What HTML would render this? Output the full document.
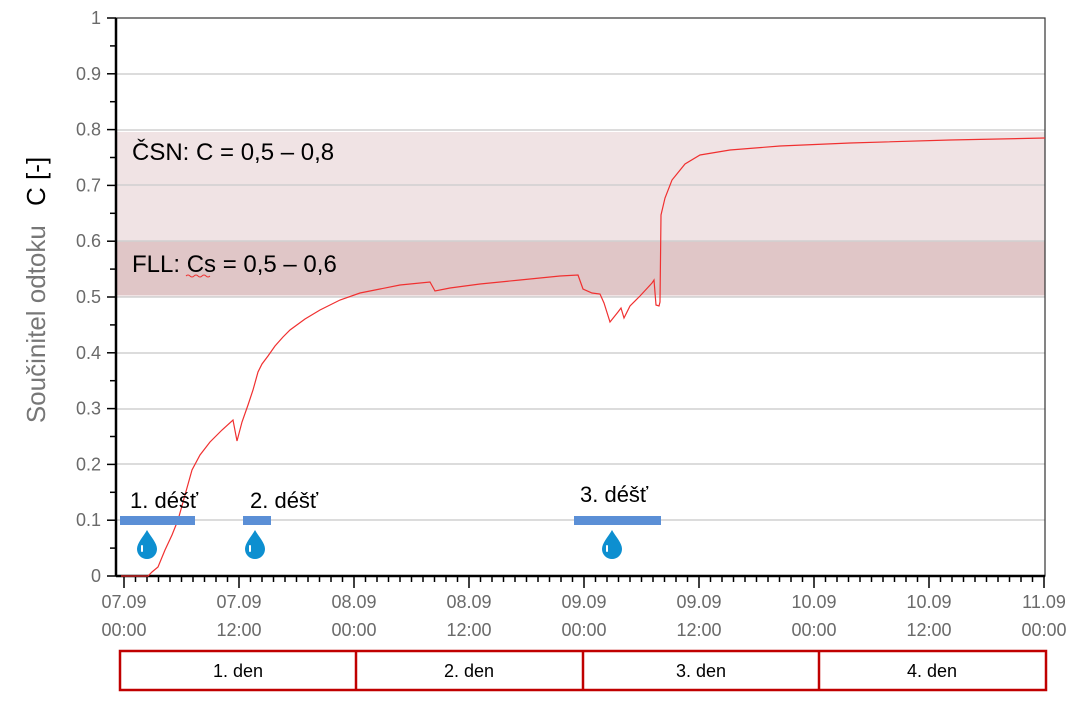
<!DOCTYPE html>
<html><head><meta charset="utf-8"><style>
body{margin:0;background:#fff;width:1073px;height:696px;overflow:hidden;font-family:"Liberation Sans",sans-serif}
</style></head><body>
<svg width="1073" height="696" xmlns="http://www.w3.org/2000/svg">
<rect x="116" y="132" width="929" height="165" fill="#f0e3e4"/>
<rect x="116" y="241" width="929" height="54" fill="#e0c6c7"/>
<g stroke="#d0d0d0" stroke-width="1.5">
<line x1="116" y1="74" x2="1045" y2="74"/><line x1="116" y1="130" x2="1045" y2="130"/>
<line x1="116" y1="185" x2="1045" y2="185"/><line x1="116" y1="241" x2="1045" y2="241"/>
<line x1="116" y1="297" x2="1045" y2="297"/><line x1="116" y1="353" x2="1045" y2="353"/>
<line x1="116" y1="409" x2="1045" y2="409"/><line x1="116" y1="464" x2="1045" y2="464"/>
<line x1="116" y1="520" x2="1045" y2="520"/>
</g>
<rect x="116" y="18" width="929" height="558" fill="none" stroke="#333" stroke-width="1.2"/>
<line x1="116" y1="18" x2="116" y2="576" stroke="#000" stroke-width="2.5"/>
<line x1="116" y1="576" x2="1045" y2="576" stroke="#000" stroke-width="2.5"/>
<g stroke="#000" stroke-width="1.5" id="yt"></g>
<g stroke="#000" stroke-width="1.5" id="xt"></g>
<g font-size="18" fill="#6a6a6a" text-anchor="end" id="yl"></g>
<g font-size="18" fill="#6a6a6a" text-anchor="middle" id="xl"></g>
<polyline fill="none" stroke="#f03030" stroke-width="1.2" points="121,576 148,576 152,572 158,567 165,550 172,535 178,520 185,495 192,470 200,455 210,442 222,430 233,420 237,441 242,422 248,405 253,390 258,372 262,364 268,356 275,346 283,337 290,330 305,319 320,310 340,300 360,293 380,289 400,285 430,282 435,291 450,288 480,284 520,280 560,276 578,275 583,289 592,293 600,294 604,303 610,322 618,312 621,308 624,318 630,306 640,296 652,283 654,280 656,305 659,306 660,302 661,215 665,198 672,180 685,164 700,155 730,150 780,146 850,143 950,140 1045,138"/>
<rect x="120" y="516" width="75" height="9" fill="#5b8fd6"/>
<rect x="243" y="516" width="28" height="9" fill="#5b8fd6"/>
<rect x="574" y="516" width="87" height="9" fill="#5b8fd6"/>
<g fill="#0d8fd0">
<path d="M147,530 C151,537 157,543 157,549 A10,10 0 0 1 137,549 C137,543 143,537 147,530Z"/>
<path d="M255,530 C259,537 265,543 265,549 A10,10 0 0 1 245,549 C245,543 251,537 255,530Z"/>
<path d="M612,530 C616,537 622,543 622,549 A10,10 0 0 1 602,549 C602,543 608,537 612,530Z"/>
</g>
<g fill="#fff"><rect x="141" y="545" width="2" height="7" rx="1"/><rect x="249" y="545" width="2" height="7" rx="1"/><rect x="606" y="545" width="2" height="7" rx="1"/></g>
<g font-family="Liberation Sans, sans-serif" font-size="22" fill="#000">
<text x="130" y="508">1. déšť</text><text x="250" y="508">2. déšť</text><text x="580" y="502">3. déšť</text>
<text x="132" y="160" font-size="24">ČSN: C = 0,5 – 0,8</text>
<text x="132" y="272" font-size="24">FLL: Cs = 0,5 – 0,6</text>
</g>
<path d="M186,276 q2,-2 4,0 t4,0 t4,0 t4,0 t4,0 t4,0" stroke="#e33" fill="none" stroke-width="1"/>
<text transform="translate(45,290) rotate(-90)" text-anchor="middle" font-size="26" fill="#777">Součinitel odtoku <tspan fill="#000" dx="12">C [-]</tspan></text>
<g fill="none" stroke="#c00000" stroke-width="2.5"><rect x="120" y="651" width="926" height="39"/>
<line x1="356" y1="651" x2="356" y2="690"/><line x1="583" y1="651" x2="583" y2="690"/><line x1="819" y1="651" x2="819" y2="690"/></g>
<g font-size="18" text-anchor="middle" fill="#000"><text x="238" y="677">1. den</text><text x="469" y="677">2. den</text><text x="701" y="677">3. den</text><text x="932" y="677">4. den</text></g>
<script>
var ns="http://www.w3.org/2000/svg";function el(p,t,a,tx){var e=document.createElementNS(ns,t);for(var k in a)e.setAttribute(k,a[k]);if(tx)e.textContent=tx;document.getElementById(p).appendChild(e);}
for(var i=0;i<=20;i++){var y=576-i*27.9;el("yt","line",{x1:i%2?110:107,y1:y,x2:116,y2:y});}
var yl=["0","0.1","0.2","0.3","0.4","0.5","0.6","0.7","0.8","0.9","1"];
for(var i=0;i<=10;i++)el("yl","text",{x:101,y:576-i*55.8+6},yl[i]);
for(var i=0;i<=80;i++){var x=124+i*11.5;el("xt","line",{x1:x,y1:576,x2:x,y2:i%10?582:588});}
var d=["07.09","07.09","08.09","08.09","09.09","09.09","10.09","10.09","11.09"];
for(var i=0;i<=8;i++){var x=124+i*115;el("xl","text",{x:x,y:608},d[i]);el("xl","text",{x:x,y:636},i%2?"12:00":"00:00");}
</script>
</svg>
</body></html>
